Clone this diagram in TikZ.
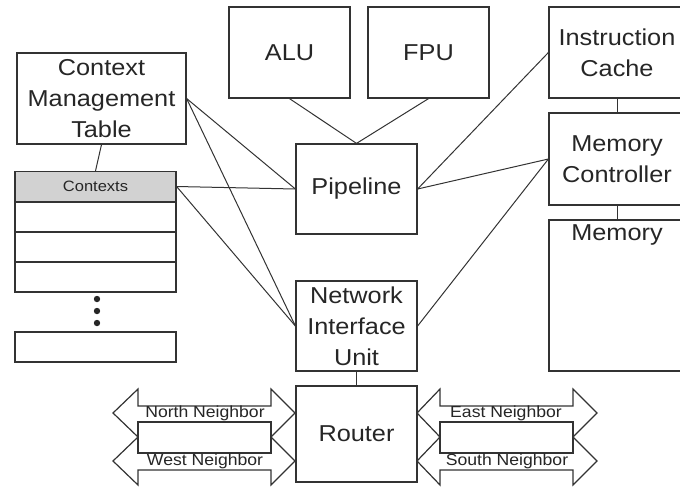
\documentclass[tikz,border=0pt]{standalone}
\usepackage{fontspec}
\setmainfont{Liberation Sans}[FakeStretch=1.1]
\usetikzlibrary{positioning}

\begin{document}
\begin{tikzpicture}[x=0.5pt, y=-0.5pt,
  box/.style={draw=black!80, line width=0.6pt, inner sep=0pt, align=center, text=black!85, font=\fontsize{11.5}{15.5}\selectfont},
  slot/.style={draw=black!80, line width=0.6pt, inner sep=0pt, minimum width=80.5pt, minimum height=15pt, text=black!85, font=\fontsize{7.5}{9}\selectfont},
  link/.style={black!80, line width=0.5pt},
  blockarrow/.style={draw=black!80, line width=0.6pt, fill=white},
  small/.style={text=black!85, font=\fontsize{8}{9.5}\selectfont}]
\useasboundingbox (0,0) rectangle (680,488);

% Neighbor links (west side)
\draw[blockarrow] (113,413) -- (138,389) -- (138,406) -- (271,406) -- (271,389) -- (295,413)
  -- (271,437) -- (271,422) -- (138,422) -- (138,437) -- cycle;
\draw[blockarrow] (113,461) -- (138,437) -- (138,453) -- (271,453) -- (271,437) -- (295,461)
  -- (271,485) -- (271,470) -- (138,470) -- (138,485) -- cycle;
\draw[blockarrow] (138,422) rectangle (271,453);
\node[small] (north) at (205,413) {North Neighbor};
\node[small] (west) at (205,461) {West Neighbor};

% Neighbor links (east side)
\draw[blockarrow] (417,413) -- (440,389) -- (440,406) -- (573,406) -- (573,389) -- (597,413)
  -- (573,437) -- (573,422) -- (440,422) -- (440,437) -- cycle;
\draw[blockarrow] (417,461) -- (440,437) -- (440,453) -- (573,453) -- (573,437) -- (597,461)
  -- (573,485) -- (573,470) -- (440,470) -- (440,485) -- cycle;
\draw[blockarrow] (440,422) rectangle (573,453);
\node[small] (east) at (506,413) {East Neighbor};
\node[small] (south) at (507,461) {South Neighbor};

% Context table and storage
\node[box, minimum width=84.5pt, minimum height=45.5pt] (cmt) at (101.5,98.5) {Context\\Management\\Table};
\node[slot, fill=gray!35] (ctx0) at (95.5,186.5) {Contexts};
\node[slot] (ctx1) at (95.5,217) {};
\node[slot] (ctx2) at (95.5,247) {};
\node[slot] (ctx3) at (95.5,277) {};
\node[slot] (ctxn) at (95.5,347) {};
\fill[black!85] (97,299) circle[radius=1.6pt] (97,311) circle[radius=1.6pt] (97,323) circle[radius=1.6pt];

% Core
\node[box, minimum width=60.5pt, minimum height=45.5pt] (alu) at (289.5,52.5) {ALU};
\node[box, minimum width=60.5pt, minimum height=45.5pt] (fpu) at (428.5,52.5) {FPU};
\node[box, minimum width=60.5pt, minimum height=45pt] (pipe) at (356.5,189) {Pipeline};
\node[box, minimum width=60.5pt, minimum height=45pt] (niu) at (356.5,326) {Network\\Interface\\Unit};
\node[box, minimum width=60.5pt, minimum height=48pt] (router) at (356.5,434) {Router};

% Memory side
\node[box, minimum width=68pt, minimum height=45.5pt] (icache) at (617,52.5) {Instruction\\Cache};
\node[box, minimum width=68pt, minimum height=46pt] (memctrl) at (617,159) {Memory\\Controller};
\node[box, minimum width=68pt, minimum height=75.5pt,
  label={[anchor=north, inner sep=0pt, yshift=-2.5pt, text=black!85, font=\fontsize{11.5}{15.5}\selectfont]north:Memory}] (memory) at (617,295.5) {};

% Connections
\draw[link] (cmt.south) -- (ctx0.north);
\draw[link] (cmt.east) -- (pipe.west);
\draw[link] (cmt.east) -- (niu.west);
\draw[link] (ctx0.east) -- (pipe.west);
\draw[link] (ctx0.east) -- (niu.west);
\draw[link] (alu.south) -- (pipe.north);
\draw[link] (fpu.south) -- (pipe.north);
\draw[link] (pipe.east) -- (icache.west);
\draw[link] (pipe.east) -- (memctrl.west);
\draw[link] (niu.east) -- (memctrl.west);
\draw[link] (niu.south) -- (router.north);
\draw[link] (icache.south) -- (memctrl.north);
\draw[link] (memctrl.south) -- (memory.north);
\end{tikzpicture}
\end{document}
